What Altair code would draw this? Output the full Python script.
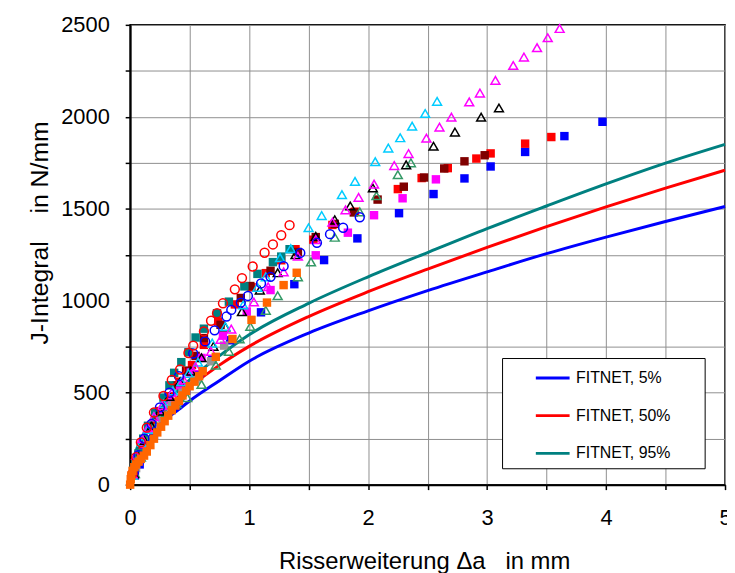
import altair as alt
import pandas as pd

NB = "\u00a0"

# ---- FITNET curves ----
FIT_X = [0, 0.02, 0.05, 0.1, 0.2, 0.3, 0.41, 0.5, 0.75, 1.0, 1.5, 2.0, 2.5, 3.0, 3.5, 4.0, 4.5, 5.0]
FIT_05 = [0, 90, 145, 205, 290, 355, 410, 455, 565, 671, 824, 945, 1055, 1157, 1256, 1346, 1431, 1512]
FIT_50 = [0, 105, 170, 238, 336, 410, 482, 530, 650, 752, 914, 1049, 1172, 1290, 1403, 1510, 1612, 1710]
FIT_95 = [0, 115, 185, 260, 365, 445, 515, 570, 700, 815, 986, 1130, 1262, 1392, 1515, 1635, 1748, 1850]
FIT_NAMES = ["FITNET, 5%", "FITNET, 50%", "FITNET, 95%"]
FIT_COLORS = ["#0000FF", "#FF0000", "#008080"]

# ---- filled squares ----
BLUE_SQ_X = [0.04, 0.08, 0.13, 0.2, 0.28, 0.37, 0.47, 0.58, 0.69, 0.84, 1.1, 1.38, 1.63, 1.91, 2.26, 2.55, 2.81, 3.03, 3.32, 3.65, 3.97]
BLUE_SQ_J = [50, 110, 190, 270, 350, 430, 510, 600, 680, 785, 937, 1090, 1221, 1339, 1476, 1580, 1665, 1730, 1809, 1895, 1973]
RED_SQ_X = [0.03, 0.07, 0.12, 0.18, 0.25, 0.33, 0.42, 0.52, 0.62, 0.74, 0.88, 1.02, 1.14, 1.27, 1.39, 1.54, 1.70, 1.89, 2.25, 2.45, 2.67, 2.91, 3.03, 3.32, 3.54]
RED_SQ_J = [60, 150, 240, 320, 400, 480, 560, 650, 760, 887, 980, 1073, 1150, 1220, 1280, 1332, 1412, 1484, 1607, 1667, 1721, 1773, 1801, 1854, 1890]
MAROON_SQ_X = [0.03, 0.07, 0.12, 0.17, 0.24, 0.31, 0.39, 0.47, 0.55, 0.62, 0.76, 0.93, 1.01, 1.18, 1.41, 1.56, 1.72, 1.88, 2.08, 2.30, 2.47, 2.64, 2.81, 2.98]
MAROON_SQ_J = [60, 150, 230, 300, 380, 460, 540, 620, 700, 797, 869, 1015, 1080, 1163, 1265, 1346, 1418, 1480, 1550, 1620, 1670, 1719, 1758, 1791]
MAG_SQ_X = [0.03, 0.07, 0.12, 0.18, 0.25, 0.33, 0.42, 0.51, 0.60, 0.78, 0.98, 1.18, 1.56, 1.83, 2.05, 2.29, 2.57]
MAG_SQ_J = [50, 130, 220, 300, 380, 460, 540, 610, 689, 810, 941, 1058, 1247, 1370, 1465, 1557, 1660]
TEAL_SQ_X = [0.03, 0.07, 0.11, 0.15, 0.21, 0.28, 0.33, 0.37, 0.43, 0.49, 0.55, 0.62, 0.73, 0.83, 0.96, 1.07, 1.2, 1.27, 1.34]
TEAL_SQ_J = [80, 170, 250, 320, 392, 473, 540, 608, 666, 720, 800, 848, 932, 995, 1078, 1146, 1210, 1240, 1280]
GRAY_SQ_X = [0.05, 0.1, 0.15, 0.2, 0.27, 0.35, 0.44, 0.55, 0.68, 0.79]
GRAY_SQ_J = [90, 170, 240, 300, 360, 430, 500, 572, 671, 756]
ORANGE_SQ_X = [0, 0.005, 0.01, 0.02, 0.035, 0.05, 0.07, 0.09, 0.117, 0.14, 0.17, 0.2, 0.228, 0.26, 0.29, 0.32, 0.35, 0.38, 0.41, 0.44, 0.47, 0.50, 0.54, 0.58, 0.61, 0.72, 0.86, 1.02, 1.15, 1.29, 1.40]
ORANGE_SQ_J = [0, 30, 50, 75, 95, 110, 125, 140, 158, 180, 215, 250, 284, 315, 345, 375, 405, 430, 455, 485, 510, 535, 560, 590, 617, 695, 792, 896, 990, 1085, 1152]

# ---- open circles ----
RED_CI_X = [0.02, 0.05, 0.09, 0.14, 0.2, 0.28, 0.35, 0.42, 0.49, 0.53, 0.62, 0.68, 0.73, 0.78, 0.88, 0.94, 1.03, 1.13, 1.20, 1.27, 1.34]
RED_CI_J = [60, 150, 230, 310, 392, 482, 569, 626, 716, 756, 833, 891, 932, 986, 1062, 1123, 1186, 1261, 1306, 1356, 1411]
BLUE_CI_X = [0.03, 0.07, 0.12, 0.18, 0.25, 0.33, 0.41, 0.53, 0.63, 0.71, 0.81, 0.85, 0.93, 0.99, 1.10, 1.18, 1.29, 1.43, 1.57, 1.68, 1.79, 1.93]
BLUE_CI_J = [70, 160, 250, 330, 420, 500, 590, 713, 779, 839, 914, 950, 990, 1026, 1094, 1130, 1188, 1260, 1315, 1362, 1397, 1454]

# ---- open triangles ----
CYAN_TR_X = [0.02, 0.05, 0.1, 0.15, 0.2, 0.28, 0.36, 0.43, 0.49, 0.57, 0.69, 0.80, 0.95, 1.07, 1.14, 1.26, 1.35, 1.50, 1.61, 1.78, 1.89, 2.06, 2.17, 2.27, 2.37, 2.48, 2.58]
CYAN_TR_J = [50, 130, 230, 300, 370, 440, 510, 560, 605, 666, 770, 860, 977, 1073, 1130, 1234, 1283, 1397, 1463, 1577, 1649, 1756, 1830, 1886, 1949, 2018, 2084]
MAG_TR_X = [0.02, 0.05, 0.1, 0.15, 0.2, 0.27, 0.35, 0.45, 0.55, 0.68, 0.76, 0.85, 1.04, 1.16, 1.29, 1.41, 1.56, 1.70, 1.81, 1.92, 2.05, 2.22, 2.34, 2.49, 2.60, 2.70, 2.85, 2.94, 3.07, 3.22, 3.31, 3.42, 3.51, 3.61]
MAG_TR_J = [60, 160, 250, 310, 370, 430, 500, 570, 640, 725, 790, 846, 993, 1076, 1157, 1242, 1332, 1427, 1494, 1562, 1634, 1735, 1800, 1884, 1944, 1998, 2081, 2129, 2198, 2279, 2325, 2376, 2430, 2480]
BLACK_TR_X = [0.03, 0.07, 0.12, 0.18, 0.25, 0.33, 0.42, 0.51, 0.60, 0.70, 0.80, 0.94, 1.09, 1.24, 1.39, 1.56, 1.72, 1.85, 2.04, 2.32, 2.55, 2.73, 2.95, 3.10]
BLACK_TR_J = [60, 150, 240, 320, 400, 480, 560, 617, 690, 752, 857, 941, 1058, 1152, 1250, 1350, 1440, 1515, 1613, 1739, 1840, 1917, 1998, 2048]
GREEN_TR_X = [0.04, 0.09, 0.15, 0.22, 0.30, 0.39, 0.48, 0.60, 0.72, 0.83, 0.92, 1.01, 1.14, 1.24, 1.41, 1.52, 1.72, 1.93, 2.07, 2.25, 2.36]
GREEN_TR_J = [60, 150, 240, 320, 390, 440, 473, 545, 650, 725, 792, 860, 948, 1027, 1130, 1211, 1345, 1483, 1571, 1685, 1750]


def frame(xs, js, name):
    return pd.DataFrame({"x": xs, "J": js, "series": name})


lines_df = pd.concat([frame(FIT_X, v, n) for v, n in zip([FIT_05, FIT_50, FIT_95], FIT_NAMES)])

sq_specs = [
    ("blue_sq", BLUE_SQ_X, BLUE_SQ_J, "#0000FF"),
    ("red_sq", RED_SQ_X, RED_SQ_J, "#FF0000"),
    ("maroon_sq", MAROON_SQ_X, MAROON_SQ_J, "#800000"),
    ("mag_sq", MAG_SQ_X, MAG_SQ_J, "#FF00FF"),
    ("gray_sq", GRAY_SQ_X, GRAY_SQ_J, "#969696"),
    ("teal_sq", TEAL_SQ_X, TEAL_SQ_J, "#008080"),
]
sq_df = pd.concat([frame(x, j, n) for n, x, j, c in sq_specs])

open_specs = [
    ("green_tr", GREEN_TR_X, GREEN_TR_J, "#339966", "triangle-up"),
    ("black_tr", BLACK_TR_X, BLACK_TR_J, "#000000", "triangle-up"),
    ("cyan_tr", CYAN_TR_X, CYAN_TR_J, "#00CCFF", "triangle-up"),
    ("mag_tr", MAG_TR_X, MAG_TR_J, "#FF00FF", "triangle-up"),
    ("blue_ci", BLUE_CI_X, BLUE_CI_J, "#0000FF", "circle"),
    ("red_ci", RED_CI_X, RED_CI_J, "#FF0000", "circle"),
]
open_df = pd.concat([frame(x, j, n) for n, x, j, c, s in open_specs])
orange_df = frame(ORANGE_SQ_X, ORANGE_SQ_J, "orange_sq")

FONT = "Liberation Sans"
GRID = "#8f8f8f"

x_axis = alt.Axis(
    values=[i * 0.5 for i in range(11)],
    labelExpr="datum.value % 1 == 0 ? format(datum.value, 'd') : ''",
    labelFlush=False, labelOverlap=False,
    grid=True, gridColor=GRID, gridWidth=1,
    domainColor="#000000", domainWidth=2,
    tickColor="#000000", tickSize=5, tickWidth=1.5,
    labelFont=FONT, labelFontSize=22, labelColor="#000000", labelPadding=18,
    title="Risserweiterung Δa" + NB + NB + " in mm",
    titleFont=FONT, titleFontSize=24, titleFontWeight="normal", titleColor="#000000",
    titleX=296, titleY=77, titleBaseline="middle", titleAlign="center",
)
y_axis = alt.Axis(
    values=[i * 250 for i in range(11)],
    labelExpr="datum.value % 500 == 0 ? format(datum.value, 'd') : ''",
    labelFlush=False, labelOverlap=False,
    grid=True, gridColor=GRID, gridWidth=1,
    domainColor="#000000", domainWidth=2,
    tickColor="#000000", tickSize=5, tickWidth=1.5,
    labelFont=FONT, labelFontSize=22, labelColor="#000000", labelPadding=16,
    title="J-Integral" + NB + NB + NB + " in N/mm",
    titleFont=FONT, titleFontSize=25, titleFontWeight="normal", titleColor="#000000",
    titleX=-91, titleY=209, titleAngle=270, titleBaseline="middle", titleAlign="center",
)
xs = alt.Scale(domain=[0, 5], nice=False, zero=False)
ys = alt.Scale(domain=[0, 2500], nice=False)

X = alt.X("x:Q", scale=xs, axis=x_axis)
Y = alt.Y("J:Q", scale=ys, axis=y_axis)

# white legend frame (decoration, pixel positions)
legend_box = alt.Chart(pd.DataFrame({"k": [0]})).mark_rect(
    fill="#FFFFFF", stroke="#000000", strokeWidth=1
).encode(
    x=alt.value(375), x2=alt.value(579), y=alt.value(336), y2=alt.value(447)
)

lines = alt.Chart(lines_df).mark_line(strokeWidth=3, interpolate="monotone").encode(
    x=X, y=Y,
    color=alt.Color(
        "series:N",
        scale=alt.Scale(domain=FIT_NAMES, range=FIT_COLORS),
        legend=alt.Legend(
            orient="none", legendX=375, legendY=334, title=None,
            padding=3, cornerRadius=0,
            symbolType="stroke", symbolSize=1156, symbolStrokeWidth=3, symbolOffset=29,
            labelFont=FONT, labelFontSize=16, labelColor="#000000", labelOffset=5,
            rowPadding=11, labelLimit=400,
        ),
    ),
)

squares = alt.Chart(sq_df).mark_point(shape="square", filled=True, size=72, opacity=1).encode(
    x=X, y=Y,
    color=alt.Color("series:N", scale=alt.Scale(domain=[s[0] for s in sq_specs], range=[s[3] for s in sq_specs]), legend=None),
)

opens = alt.Chart(open_df).mark_point(filled=False, size=80, strokeWidth=1.5, opacity=1).encode(
    x=X, y=Y,
    color=alt.Color("series:N", scale=alt.Scale(domain=[s[0] for s in open_specs], range=[s[3] for s in open_specs]), legend=None),
    shape=alt.Shape("series:N", scale=alt.Scale(domain=[s[0] for s in open_specs], range=[s[4] for s in open_specs]), legend=None),
)

orange = alt.Chart(orange_df).mark_point(shape="square", filled=True, size=72, opacity=1, color="#FF6600").encode(
    x=X, y=Y,
)

chart = alt.layer(legend_box, lines, squares, opens, orange).resolve_scale(
    color="independent", shape="independent"
).properties(
    width=599, height=463,
    autosize=alt.AutoSizeParams(type="none"),
    padding={"left": 123, "top": 15, "right": 2, "bottom": 88},
).configure_view(stroke="#000000", strokeWidth=1.5)

chart.save("out.html", embed_options={"renderer": "svg", "actions": False})
